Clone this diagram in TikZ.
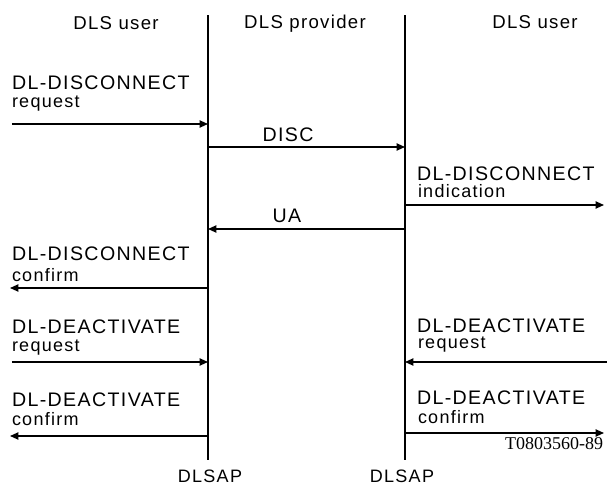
\documentclass[tikz,border=0pt]{standalone}
\usepackage{fontspec}
\setmainfont{Liberation Sans}[LetterSpace=7]
\newfontfamily\reffont{Liberation Serif}
\usetikzlibrary{arrows.meta}

\begin{document}
\begin{tikzpicture}[x=0.5pt,y=-0.5pt,inner sep=0pt,outer sep=0pt,
msg/.style={-{Triangle[length=4.2pt,width=3.6pt]},line width=0.8pt},
prim/.style={anchor=base west,font=\fontsize{9.8}{11}\selectfont},
kind/.style={anchor=base west,font=\fontsize{9}{11}\selectfont},
head/.style={anchor=base,font=\fontsize{9.3}{11}\selectfont},
sap/.style={anchor=base,font=\fontsize{9}{11}\selectfont}]

\useasboundingbox (0,0) rectangle (607,487);

% service access points
\coordinate (Ltop) at (208,15);
\coordinate (Lbot) at (208,460);
\coordinate (Rtop) at (405,15);
\coordinate (Rbot) at (405,460);
\draw[line width=0.9pt] (Ltop) -- (Lbot);
\draw[line width=0.9pt] (Rtop) -- (Rbot);

\draw (116,30) node[head] (userL) {DLS user};
\draw (305,28) node[head] (prov) {DLS provider};
\draw (535,28) node[head] (userR) {DLS user};
\draw (210,482) node[sap] (sapL) {DLSAP};
\draw (402,482) node[sap] (sapR) {DLSAP};

% disconnect
\draw (12,90) node[prim] (dreq) {DL-DISCONNECT};
\draw (12,107) node[kind] (dreqk) {request};
\coordinate (a1) at (12,124);
\coordinate (L1) at (208,124);
\draw[msg] (a1) -- (L1);

\draw (288,141) node[anchor=base,font=\fontsize{9.8}{11}\selectfont] (disc) {DISC};
\coordinate (L2) at (208,147);
\coordinate (R2) at (405,147);
\draw[msg] (L2) -- (R2);

\draw (417,181) node[prim] (dind) {DL-DISCONNECT};
\draw (418,198) node[kind] (dindk) {indication};
\coordinate (R3) at (405,205);
\coordinate (a3) at (604,205);
\draw[msg] (R3) -- (a3);

\draw (287,222) node[anchor=base,font=\fontsize{9.8}{11}\selectfont] (ua) {UA};
\coordinate (R4) at (405,229);
\coordinate (L4) at (208,229);
\draw[msg] (R4) -- (L4);

\draw (12,261) node[prim] (dcnf) {DL-DISCONNECT};
\draw (12,281) node[kind] (dcnfk) {confirm};
\coordinate (L5) at (208,288);
\coordinate (a5) at (10,288);
\draw[msg] (L5) -- (a5);

% deactivate
\draw (12,334) node[prim] (areqL) {DL-DEACTIVATE};
\draw (12,351) node[kind] (areqLk) {request};
\coordinate (a6) at (12,362);
\coordinate (L6) at (208,362);
\draw[msg] (a6) -- (L6);

\draw (417,332) node[prim] (areqR) {DL-DEACTIVATE};
\draw (418,349) node[kind] (areqRk) {request};
\coordinate (a7) at (607,362);
\coordinate (R7) at (405,362);
\draw[msg] (a7) -- (R7);

\draw (12,407) node[prim] (acnfL) {DL-DEACTIVATE};
\draw (12,425) node[kind] (acnfLk) {confirm};
\coordinate (L8) at (208,436);
\coordinate (a8) at (10,436);
\draw[msg] (L8) -- (a8);

\draw (417,405) node[prim] (acnfR) {DL-DEACTIVATE};
\draw (418,423) node[kind] (acnfRk) {confirm};
\coordinate (R9) at (405,433);
\coordinate (a9) at (604,433);
\draw[msg] (R9) -- (a9);

\draw (603,450) node[anchor=base east,font=\reffont\fontsize{9}{10}\selectfont] (figno) {T0803560-89};
\end{tikzpicture}
\end{document}
